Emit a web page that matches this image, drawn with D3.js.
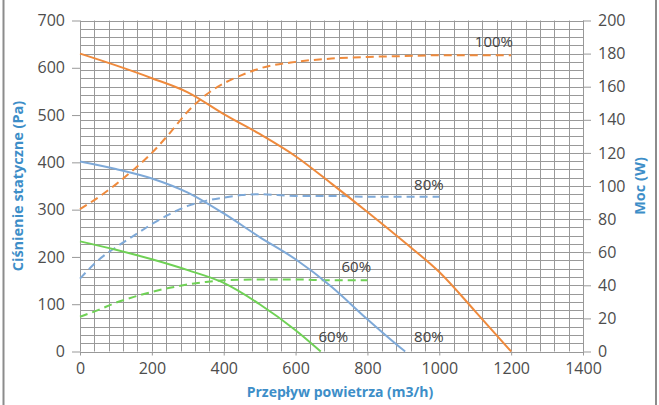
<!DOCTYPE html>
<html><head><meta charset="utf-8">
<script src="https://cdn.jsdelivr.net/npm/d3@7"></script>
<style>body{margin:0;background:#fff}svg{display:block}</style>
</head><body>
<svg id="c" width="659" height="405"></svg>
<script>
// ---- data ----
const xTicks = [0,200,400,600,800,1000,1200,1400];
const yLeftTicks = [0,100,200,300,400,500,600,700];
const yRightTicks = [0,20,40,60,80,100,120,140,160,180,200];

// static pressure (Pa) vs airflow (m3/h)
const p100 = [[0,630],[100,605],[200,578],[300,548],[400,502],[500,460],[600,413],[700,355],[800,295],[900,233],[1000,168],[1100,85],[1200,0]];
const p80  = [[0,402],[100,386],[200,366],[300,336],[400,292],[500,242],[600,195],[700,137],[800,68],[900,3],[905,0]];
const p60  = [[0,233],[100,215],[200,195],[300,172],[400,145],[500,100],[600,45],[670,0]];
// power (W) vs airflow
const w100 = [[0,86],[50,93],[100,101],[150,110],[200,120],[250,132],[300,145],[350,155],[400,162],[450,167],[500,171],[600,175],[700,177],[800,178],[900,178.5],[1000,179],[1100,179],[1200,179]];
const w80  = [[0,44],[50,55],[100,63],[150,70],[200,77],[250,83],[300,88],[350,91],[400,93],[450,94.5],[500,95],[600,94],[700,94],[800,93.5],[900,93.5],[1000,93.5]];
const w60  = [[0,21],[50,25],[100,29.5],[150,33],[200,36],[250,38.5],[300,40.5],[350,42],[400,43],[500,43.5],[600,43.5],[700,43],[800,43]];
const curveLabels = [
  {t:"100%", x:1152, w:187},
  {t:"80%", x:971, w:101},
  {t:"60%", x:769, w:51},
  {t:"60%", x:705, w:8.8},
  {t:"80%", x:971, w:8.8}
];

const orange = "#ef8a3c", blue = "#7ea9d8", green = "#6fd155";
const titleBlue = "#3d8ec8";

// ---- chart ----
const svg = d3.select("#c");
const L = 80, R = 583, T = 20.5, B = 351.5;
const x = d3.scaleLinear().domain([0,1400]).range([L,R]);
const yL = d3.scaleLinear().domain([0,700]).range([B,T]);
const yR = d3.scaleLinear().domain([0,200]).range([B,T]);

// frame
svg.append("line").attr("x1",3.5).attr("x2",3.5).attr("y1",0).attr("y2",405).attr("stroke","#8c8c8c").attr("stroke-width",2);
svg.append("line").attr("x1",656).attr("x2",656).attr("y1",0).attr("y2",405).attr("stroke","#8c8c8c").attr("stroke-width",2);

// grid
const gridC = "#999";
const g = svg.append("g");
g.selectAll(".vg").data(d3.range(0,1401,40)).join("line")
  .attr("x1",d=>Math.round(x(d))+0.5).attr("x2",d=>Math.round(x(d))+0.5)
  .attr("y1",T).attr("y2",B).attr("stroke",gridC).attr("stroke-width",1);
g.selectAll(".hg").data(d3.range(0,201,5)).join("line")
  .attr("y1",d=>Math.round(yR(d))+0.5).attr("y2",d=>Math.round(yR(d))+0.5)
  .attr("x1",L).attr("x2",R).attr("stroke",gridC).attr("stroke-width",1);

const font = "'Open Sans', sans-serif";
const fmt = d3.format("d");
function styleAxis(a){
  a.select(".domain").remove();
  a.selectAll(".tick line").attr("stroke",gridC);
  a.selectAll(".tick text").attr("fill","#4d4d4d").attr("font-size",16).attr("font-family",font);
}
svg.append("g").attr("transform",`translate(${L},0)`)
  .call(d3.axisLeft(yL).tickValues(yLeftTicks).tickFormat(fmt).tickSize(8).tickPadding(7)).call(styleAxis);
svg.append("g").attr("transform",`translate(${R},0)`)
  .call(d3.axisRight(yR).tickValues(yRightTicks).tickFormat(fmt).tickSize(8).tickPadding(7)).call(styleAxis);
svg.append("g").attr("transform",`translate(0,${B})`)
  .call(d3.axisBottom(x).tickValues(xTicks).tickFormat(fmt).tickSize(4).tickPadding(7)).call(styleAxis);

// lines
const lineL = d3.line().x(d=>x(d[0])).y(d=>yL(d[1])).curve(d3.curveMonotoneX);
const lineR = d3.line().x(d=>x(d[0])).y(d=>yR(d[1])).curve(d3.curveMonotoneX);
[[w100,orange],[w80,blue],[w60,green]].forEach(([d,c])=>{
  svg.append("path").attr("d",lineR(d)).attr("fill","none").attr("stroke",c)
    .attr("stroke-width",2).attr("stroke-dasharray","8,5");
});
[[p100,orange],[p80,blue],[p60,green]].forEach(([d,c])=>{
  svg.append("path").attr("d",lineL(d)).attr("fill","none").attr("stroke",c).attr("stroke-width",2);
});

// curve labels
svg.selectAll(".cl").data(curveLabels).join("text")
  .attr("x",d=>x(d.x)).attr("y",d=>yR(d.w)).attr("dy","0.35em")
  .attr("text-anchor","middle").attr("font-family",font).attr("font-size",15).attr("fill","#444")
  .text(d=>d.t);

// axis titles
svg.append("text").attr("x",340).attr("y",397).attr("text-anchor","middle")
  .attr("font-family",font).attr("font-weight","bold").attr("font-size",14).attr("fill",titleBlue)
  .text("Przepływ powietrza (m3/h)");
svg.append("text").attr("transform",`translate(23,${(T+B)/2}) rotate(-90)`).attr("text-anchor","middle")
  .attr("font-family",font).attr("font-weight","bold").attr("font-size",14.5).attr("fill",titleBlue)
  .text("Ciśnienie statyczne (Pa)");
svg.append("text").attr("transform",`translate(645,${(T+B)/2}) rotate(-90)`).attr("text-anchor","middle")
  .attr("font-family",font).attr("font-weight","bold").attr("font-size",14.5).attr("fill",titleBlue)
  .text("Moc (W)");
</script>
</body></html>
